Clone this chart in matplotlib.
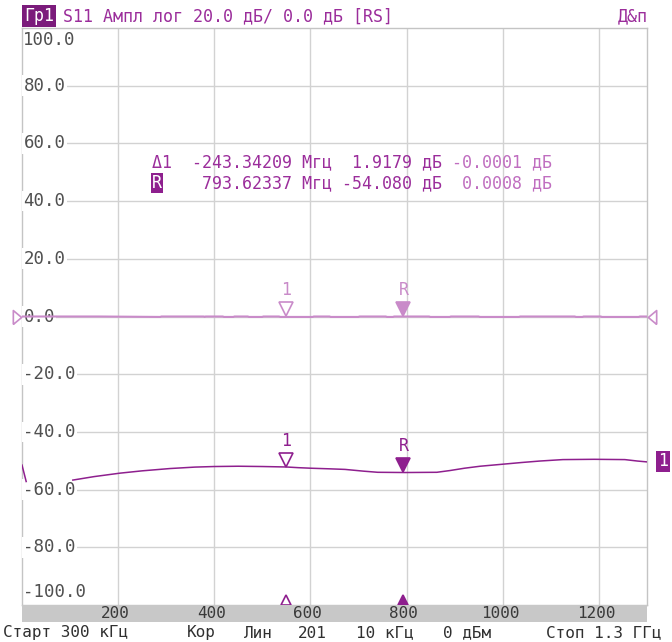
import matplotlib.pyplot as plt
import numpy as np

# frequency in MHz, level in dB
# trace 1 (memory / reference trace, ~0 dB)
upper_f = [0.3, 160, 288, 290, 300, 378, 380, 382, 418, 420, 440, 442, 470, 472,
           500, 502, 535, 537, 605, 607, 640, 642, 700, 702, 757, 759, 772, 774,
           847, 849, 890, 892, 950, 952, 1034, 1036, 1150, 1152, 1166, 1168,
           1204, 1206, 1283, 1285, 1300]
upper_db = [0.0, 0.0, -0.15, 0.0, 0.0, 0.0, -0.15, 0.0, 0.0, -0.15, -0.15, 0.0, 0.0, -0.15,
            -0.15, 0.0, 0.0, -0.15, -0.15, 0.0, 0.0, -0.15, -0.15, 0.0, 0.0, -0.15, -0.15, 0.0,
            0.0, -0.15, -0.15, 0.0, 0.0, -0.15, -0.15, 0.0, 0.0, -0.15, -0.15, 0.0,
            0.0, -0.15, -0.15, 0.0, 0.0]

# trace 1 (measured S11)
lower_f = [0.3, 9, np.nan, 106, 150, 204, 250, 308, 360, 400, 450, 500, 550, 575, 603,
           640, 672, 710, 740, 797, 863, 890, 920, 953, 1000, 1040, 1077, 1125,
           1190, 1254, 1280, 1300]
lower_db = [-51.5, -57.2, np.nan, -56.7, -55.5, -54.3, -53.5, -52.7, -52.2, -52.0, -51.9,
            -52.0, -52.16, -52.4, -52.6, -52.8, -53.0, -53.6, -54.0, -54.08, -54.0,
            -53.4, -52.6, -51.9, -51.2, -50.6, -50.1, -49.6, -49.5, -49.6, -50.1, -50.4]

marker_f = {'1': 550.28, 'R': 793.62}
marker_upper = {'1': -0.0001, 'R': 0.0008}
marker_lower = {'1': -52.16, 'R': -54.08}

y_ticks = [100, 80, 60, 40, 20, 0, -20, -40, -60, -80, -100]
x_ticks = [200, 400, 600, 800, 1000, 1200]

W, H = 672, 642
dark = '#8e1f8e'
light = '#c98bc9'
hdr = '#9b2d9b'
grid = '#d2d2d2'
mono = 'DejaVu Sans Mono'


def fx(x):
    return x / W


def fy(y):
    return 1 - y / H


fig = plt.figure(figsize=(W / 100, H / 100), dpi=100)
ax = fig.add_axes([fx(22), fy(605), 625 / W, 577 / H])
ax.set_xlim(0.3, 1300)
ax.set_ylim(-100, 100)
ax.set_xticks([])
ax.set_yticks([])
for s in ax.spines.values():
    s.set_color('#c4c4c4')
    s.set_linewidth(1)

for v in y_ticks[1:-1]:
    ax.axhline(v, color=grid, lw=1, zorder=0)
for v in x_ticks:
    ax.axvline(v, color=grid, lw=1, zorder=0)

# y labels with white background
for v in y_ticks:
    if v == 100:
        ax.annotate('100.0', (0, v), xycoords=('axes fraction', 'data'), xytext=(1, -2),
                    textcoords='offset points', ha='left', va='top', fontsize=12.5,
                    family=mono, color='#505050', zorder=3)
    elif v == -100:
        ax.annotate('-100.0', (0, v), xycoords=('axes fraction', 'data'), xytext=(1, 3),
                    textcoords='offset points', ha='left', va='bottom', fontsize=12.5,
                    family=mono, color='#505050', zorder=3)
    else:
        ax.annotate('%.1f' % v, (0, v), xycoords=('axes fraction', 'data'), xytext=(1, 0),
                    textcoords='offset points', ha='left', va='center', fontsize=12.5,
                    family=mono, color='#505050', zorder=3,
                    bbox=dict(boxstyle='square,pad=0.08', fc='white', ec='none'))

ax.plot(upper_f, upper_db, color=light, lw=1.5, zorder=4)
ax.plot(lower_f, lower_db, color=dark, lw=1.1, zorder=4)

# markers on the traces
for name, f in marker_f.items():
    for val, col in ((marker_upper[name], light), (marker_lower[name], dark)):
        fill = col if name == 'R' else 'white'
        ax.plot([f], [val + 2.45], marker='v', ms=10, mfc=fill, mec=col, mew=1.2, zorder=5)
        ax.annotate(name, (f, val), xytext=(0, 19), textcoords='offset points',
                    ha='center', va='center', fontsize=12, family=mono, color=col, zorder=5)
    # stimulus markers on the bottom edge
    ax.plot([f], [-100 + 1.6], marker='^', ms=7.5, mfc=dark if name == 'R' else 'white',
            mec=dark, mew=1.2, zorder=5, clip_on=False)

# reference level arrows
ax.plot([-10], [0], marker=[(-0.6, -1), (0.6, 0), (-0.6, 1), (-0.6, -1)], ms=10,
        mfc='white', mec=light, mew=1.2, clip_on=False, zorder=5)
ax.plot([1310], [0], marker=[(0.6, -1), (-0.6, 0), (0.6, 1), (0.6, -1)], ms=10,
        mfc='white', mec=light, mew=1.2, clip_on=False, zorder=5)
fig.text(fx(663), fy(461.5), '1', ha='center', va='center', fontsize=12, family=mono,
         color='white', bbox=dict(boxstyle='square,pad=0.1', fc=dark, ec='none'))

# marker readout table
fig.text(fx(152), fy(162), 'Δ1  -243.34209 Мгц  1.9179 дБ', ha='left', va='center',
         fontsize=12, family=mono, color=hdr)
fig.text(fx(452), fy(162), '-0.0001 дБ', ha='left', va='center',
         fontsize=12, family=mono, color='#c06ec0')
fig.text(fx(152), fy(183), 'R', ha='left', va='center', fontsize=12, family=mono,
         color='white', bbox=dict(boxstyle='square,pad=0.08', fc=dark, ec='none'))
fig.text(fx(202), fy(183), '793.62337 Мгц -54.080 дБ', ha='left', va='center',
         fontsize=12, family=mono, color=hdr)
fig.text(fx(462), fy(183), '0.0008 дБ', ha='left', va='center',
         fontsize=12, family=mono, color='#c06ec0')

# header
fig.text(fx(24), fy(16), 'Гр1', ha='left', va='center', fontsize=12, family=mono,
         color='white', bbox=dict(boxstyle='square,pad=0.1', fc='#7b1b7b', ec='none'))
fig.text(fx(63), fy(16), 'S11 Ампл лог 20.0 дБ/ 0.0 дБ [RS]', ha='left', va='center',
         fontsize=12, family=mono, color=hdr)
fig.text(fx(648), fy(16), 'Д&п', ha='right', va='center', fontsize=12, family=mono,
         color=hdr)

# gray frequency strip
sx = fig.add_axes([fx(22), fy(622), 625 / W, 17 / H])
sx.set_xlim(0.3, 1300)
sx.set_ylim(0, 1)
sx.set_facecolor('#c8c8c8')
sx.set_xticks([])
sx.set_yticks([])
for s in sx.spines.values():
    s.set_visible(False)
for v in x_ticks:
    sx.text(v - 6, 0.5, str(v), ha='center', va='center', fontsize=11.5, family=mono,
            color='#3a3a3a')

# status line
status = [(3, 'Старт 300 кГц', 'left'), (187, 'Кор', 'left'), (244, 'Лин', 'left'),
          (298, '201', 'left'), (356, '10 кГц', 'left'), (443, '0 дБм', 'left'),
          (662, 'Стоп 1.3 ГГц', 'right')]
for x, t, ha in status:
    fig.text(fx(x), fy(633), t, ha=ha, va='center', fontsize=11.5, family=mono,
             color='#303030')

fig.savefig('out.png', dpi=100, facecolor='white')
